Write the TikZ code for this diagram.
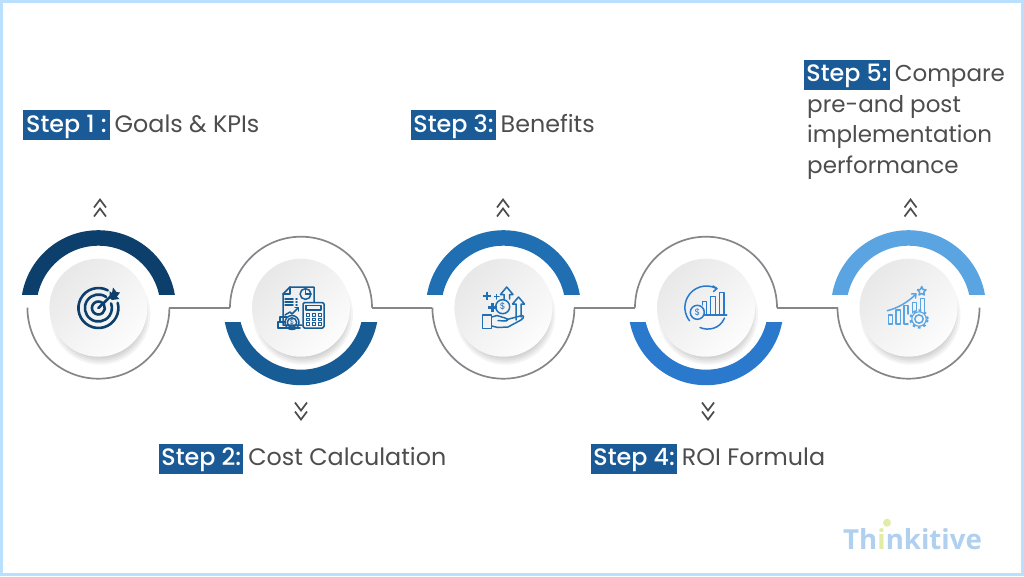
\documentclass[tikz,border=0pt]{standalone}
\usepackage{fontspec}
\setmainfont{Poppins}
\newfontfamily\stepfont{Poppins Medium}
\newfontfamily\logofont{Open Sans}[Scale=1]
\usetikzlibrary{positioning}
\definecolor{frameblue}{HTML}{B9E1FF}
\definecolor{stepbg}{HTML}{1A5A96}
\definecolor{txt}{HTML}{4D4D4D}
\definecolor{ringgray}{HTML}{85868A}
\definecolor{cA}{HTML}{0C3F6B}
\definecolor{cB}{HTML}{185C96}
\definecolor{cC}{HTML}{1F6FB2}
\definecolor{cD}{HTML}{2A79CC}
\definecolor{cE}{HTML}{5BA4E2}
\definecolor{logoblue}{HTML}{AFD0EE}
\definecolor{logogreen}{HTML}{E2ECA4}
\tikzset{
  stepbox/.style={fill=stepbg,text=white,font=\stepfont\fontsize{23.8}{28}\selectfont,inner xsep=2.2pt,inner ysep=3pt,text height=19pt,text depth=5pt},
  steptext/.style={text=txt,font=\fontsize{23.8}{28}\selectfont,inner xsep=4.5pt,inner ysep=3pt,text height=19pt,text depth=5pt},
  stepsmall/.style={steptext,font=\fontsize{23}{28}\selectfont},
  ringnode/.style={circle,minimum size=142pt,inner sep=0pt,outer sep=0pt},
  disc/.style={circle,minimum size=98pt,inner sep=0pt,top color=black!9,bottom color=black!1,shading angle=45},
  ringline/.style={draw=ringgray,line width=1.7pt},
  chev/.style={draw=txt,line width=1.7pt},
  ic/.style={line width=1.5pt,line join=round,line cap=round,fill=none},
}
\newcommand{\shadowat}[2]{%
  \foreach \rr in {38,40,...,50}{\fill[black,opacity=0.045] (#1+2,#2+7) circle[radius=\rr pt];}%
}
\newcommand{\upband}[3]{%
  \begin{scope}\clip (#1-90,200) rectangle (#1+90,294);
  \fill[#3,even odd rule] (#1,#2) circle[radius=77.5pt] (#1,#2) circle[radius=62pt];\end{scope}}
\newcommand{\downband}[3]{%
  \begin{scope}\clip (#1-90,322) rectangle (#1+90,400);
  \fill[#3,even odd rule] (#1,#2) circle[radius=77.5pt] (#1,#2) circle[radius=62pt];\end{scope}}
\newcommand{\chevup}[2]{%
  \draw[chev] (#1-6,#2+9) -- (#1,#2+1) -- (#1+6,#2+9);
  \draw[chev] (#1-6,#2+18) -- (#1,#2+10) -- (#1+6,#2+18);}
\newcommand{\chevdown}[2]{%
  \draw[chev] (#1-6,#2+1) -- (#1,#2+9) -- (#1+6,#2+1);
  \draw[chev] (#1-6,#2+10) -- (#1,#2+18) -- (#1+6,#2+10);}
\begin{document}
\begin{tikzpicture}[x=1pt,y=-1pt]
\useasboundingbox (0,0) rectangle (1024,576);
\fill[white] (0,0) rectangle (1024,576);
\draw[frameblue,line width=3.4pt] (1.7,1.7) rectangle (1022.3,574.3);

\node[ringnode] (r1) at (98.4,307.7) {};
\node[ringnode] (r2) at (301,307.7) {};
\node[ringnode] (r3) at (503.4,307.7) {};
\node[ringnode] (r4) at (706,307.7) {};
\node[ringnode] (r5) at (908.5,307.7) {};

\draw[ringline] (r1.west) arc[start angle=180,end angle=360,radius=71pt];
\draw[ringline] (r2.west) arc[start angle=180,end angle=0,radius=71pt];
\draw[ringline] (r3.west) arc[start angle=180,end angle=360,radius=71pt];
\draw[ringline] (r4.west) arc[start angle=180,end angle=0,radius=71pt];
\draw[ringline] (r5.west) arc[start angle=180,end angle=360,radius=71pt];
\draw[ringline] (r1.east) -- (r2.west);
\draw[ringline] (r2.east) -- (r3.west);
\draw[ringline] (r3.east) -- (r4.west);
\draw[ringline] (r4.east) -- (r5.west);

\upband{98.4}{307.7}{cA}
\downband{301}{307.7}{cB}
\upband{503.4}{307.7}{cC}
\downband{706}{307.7}{cD}
\upband{908.5}{307.7}{cE}

\shadowat{98.4}{307.7}\shadowat{301}{307.7}\shadowat{503.4}{307.7}\shadowat{706}{307.7}\shadowat{908.5}{307.7}
\node[disc] (d1) at (98.4,307.7) {};
\node[disc] (d2) at (301,307.7) {};
\node[disc] (d3) at (503.4,307.7) {};
\node[disc] (d4) at (706,307.7) {};
\node[disc] (d5) at (908.5,307.7) {};

\chevup{100}{198.5}
\chevdown{301}{401.5}
\chevup{503}{198.5}
\chevdown{708}{401.5}
\chevup{910.5}{198.5}

% icon 1: target
\begin{scope}[ic,draw=cA,line width=2.6pt]
\draw (98.4,308)+(62:20pt) arc[start angle=62,end angle=375,radius=20pt];
\draw (98.4,308)+(55:13.5pt) arc[start angle=55,end angle=380,radius=13.5pt];
\draw (98.4,308)+(40:6.5pt) arc[start angle=40,end angle=390,radius=6.5pt];
\draw (98.4,308) -- (111,296);
\fill[cA] (109.5,297.5) -- (109.5,291) -- (112,293) -- (113,287.5) -- (116.5,292) -- (120,292.5) -- (117,296.5) -- (119.5,299) -- (112,300) -- cycle;
\end{scope}

% icon 2: cost
\begin{scope}[ic,draw=cB]
\draw (302,325) -- (283,325) -- (283,294) -- (290,287) -- (314,287) -- (314,302);
\draw (283,294) -- (290,294) -- (290,287);
\draw (305.5,294) circle[radius=5.4pt];
\draw (305.5,294) -- (305.5,288.6) (305.5,294) -- (310.9,294);
\draw (285,299) -- (293,299) (285,302) -- (293,302) (285,305) -- (293,305) (296,299) -- (297,299) (296,302) -- (297,302) (296,305) -- (297,305);
\draw (285,315) -- (290,312) -- (292,314) -- (298,308);
\draw (295,307.5) -- (298.5,307.5) -- (298.5,311);
\draw[rounded corners=1.5pt] (303,302.5) rectangle (324,328);
\draw (306,305.5) rectangle (321,310);
\foreach \yy in {313.5,318,322.5}{\foreach \xx in {306,312,318}{\draw[line width=1pt] (\xx,\yy) rectangle +(3,2.5);}}
\draw (292,322.5) circle[radius=7pt];
\draw (292,322.5) circle[radius=4.7pt];
\node[text=cB,inner sep=0pt,font=\fontsize{7}{7}\selectfont] (cost) at (292,322.5) {\$};
\draw (285,328) -- (278,328) -- (278,322) -- (285,322);
\draw (280,322) -- (280,317) -- (287,317);
\draw (278,328) -- (300,328);
\end{scope}

% icon 3: benefits
\begin{scope}[ic,draw=cC]
\draw[line width=2.4pt,line cap=butt] (486.7,291.5) -- (486.7,300) (482.5,295.7) -- (491,295.7);
\draw[line width=2.4pt,line cap=butt] (492.3,303) -- (492.3,311.5) (488,307.3) -- (496.5,307.3);
\draw (496.7,294.5) -- (496.7,299) (494.5,296.7) -- (499,296.7);
\draw (502.7,306.7) circle[radius=7pt];
\node[text=cC,inner sep=0pt,font=\fontsize{9}{9}\selectfont] (benefit) at (502.7,306.7) {\$};
\draw (504,299.5) -- (504,294.5) -- (500.5,294.5) -- (506.7,287) -- (513,294.5) -- (509.5,294.5) -- (509.5,299);
\draw (516,320) -- (516,304) -- (512.5,304) -- (518.5,297) -- (524.5,304) -- (521,304) -- (521,317);
\draw (482.3,315) rectangle (491.7,328.3);
\draw (491.7,317) -- (497,315.5) -- (505,318) .. controls (509,319) and (508,321.5) .. (504,321) -- (498,320.5);
\draw (507,319.5) -- (522,315.5) .. controls (525,316) and (523,319) .. (521,320) -- (508,327) -- (498,327.5) -- (491.7,326);
\end{scope}

% icon 4: ROI
\begin{scope}[ic,draw=cD]
\draw (716.5,288.5) arc[start angle=62,end angle=218,radius=21.5pt];
\draw (700,327.5) .. controls (708,331) and (720,329) .. (724.5,318);
\draw (713,286) -- (717,288.5) -- (713.5,291.5);
\draw (697.3,312.3) circle[radius=7pt];
\node[text=cD,inner sep=0pt,font=\fontsize{9}{9}\selectfont] (roi) at (697.3,312.3) {\$};
\draw (702.5,305) -- (702.5,301.7) -- (706.7,301.7) -- (706.7,314.5);
\draw (710.7,314.5) -- (710.7,296.7) -- (715.7,296.7) -- (715.7,314.5);
\draw (719.3,314.5) -- (719.3,292.3) -- (724,292.3) -- (724,314.5);
\draw (704,314.8) -- (726.7,314.8);
\end{scope}

% icon 5: performance
\begin{scope}[ic,draw=cE]
\draw (888.5,315) rectangle (892.5,324);
\draw (896,310) rectangle (900.5,324);
\draw (904,324) -- (908,324) (904,324) -- (904,305.5) -- (908,305.5) -- (908,314);
\draw (912.5,313) -- (912.5,302.5) -- (916.5,302.5) -- (916.5,311);
\draw (920.5,311) -- (920.5,298.5) -- (924.5,298.5) -- (924.5,312);
\draw (887.3,310.7) .. controls (898,308) and (908,302) .. (915.5,294.5);
\draw (911.5,294) -- (916,293.8) -- (915.5,298);
\draw (921.7,286.5) -- (923,289.5) -- (926,289.8) -- (923.8,292) -- (924.4,295) -- (921.7,293.5) -- (919,295) -- (919.6,292) -- (917.4,289.8) -- (920.4,289.5) -- cycle;
\draw (919,319) circle[radius=4.2pt];
\draw[line width=1.1pt] (919,319) circle[radius=7.2pt];
\draw[line width=2.2pt,dash pattern=on 2.6pt off 3pt,line cap=butt] (919,319) circle[radius=8.6pt];
\end{scope}

\node[stepbox,anchor=west,inner xsep=3pt] (s1) at (23,125.3) {Step 1 :};
\node[steptext,right=0pt of s1] (t1) {Goals \& KPIs};
\node[stepbox,anchor=west] (s2) at (159,458.5) {Step 2:};
\node[steptext,right=0pt of s2] (t2) {Cost Calculation};
\node[stepbox,anchor=west] (s3) at (411,125.3) {Step 3:};
\node[steptext,right=0pt of s3] (t3) {Benefits};
\node[stepbox,anchor=west] (s4) at (591,458.5) {Step 4:};
\node[steptext,right=0pt of s4] (t4) {ROI Formula};
\node[stepbox,anchor=west] (s5) at (804,74.5) {Step 5:};
\node[stepsmall,right=0pt of s5] (t5) {Compare};
\node[stepsmall,anchor=west,inner xsep=3pt] (t6) at (804,105) {pre-and post};
\node[stepsmall,anchor=west,inner xsep=3pt] (t7) at (804,135.5) {implementation};
\node[stepsmall,anchor=west,inner xsep=3pt] (t8) at (804,166) {performance};

\node[anchor=base west,inner sep=0pt,text=logoblue,font=\logofont\bfseries\fontsize{27.6}{28}\selectfont] (logo) at (843,549) {Th\textcolor{logogreen}{i}nkitive};
\fill[logogreen] (887,522.7) circle[radius=4pt];
\end{tikzpicture}
\end{document}
